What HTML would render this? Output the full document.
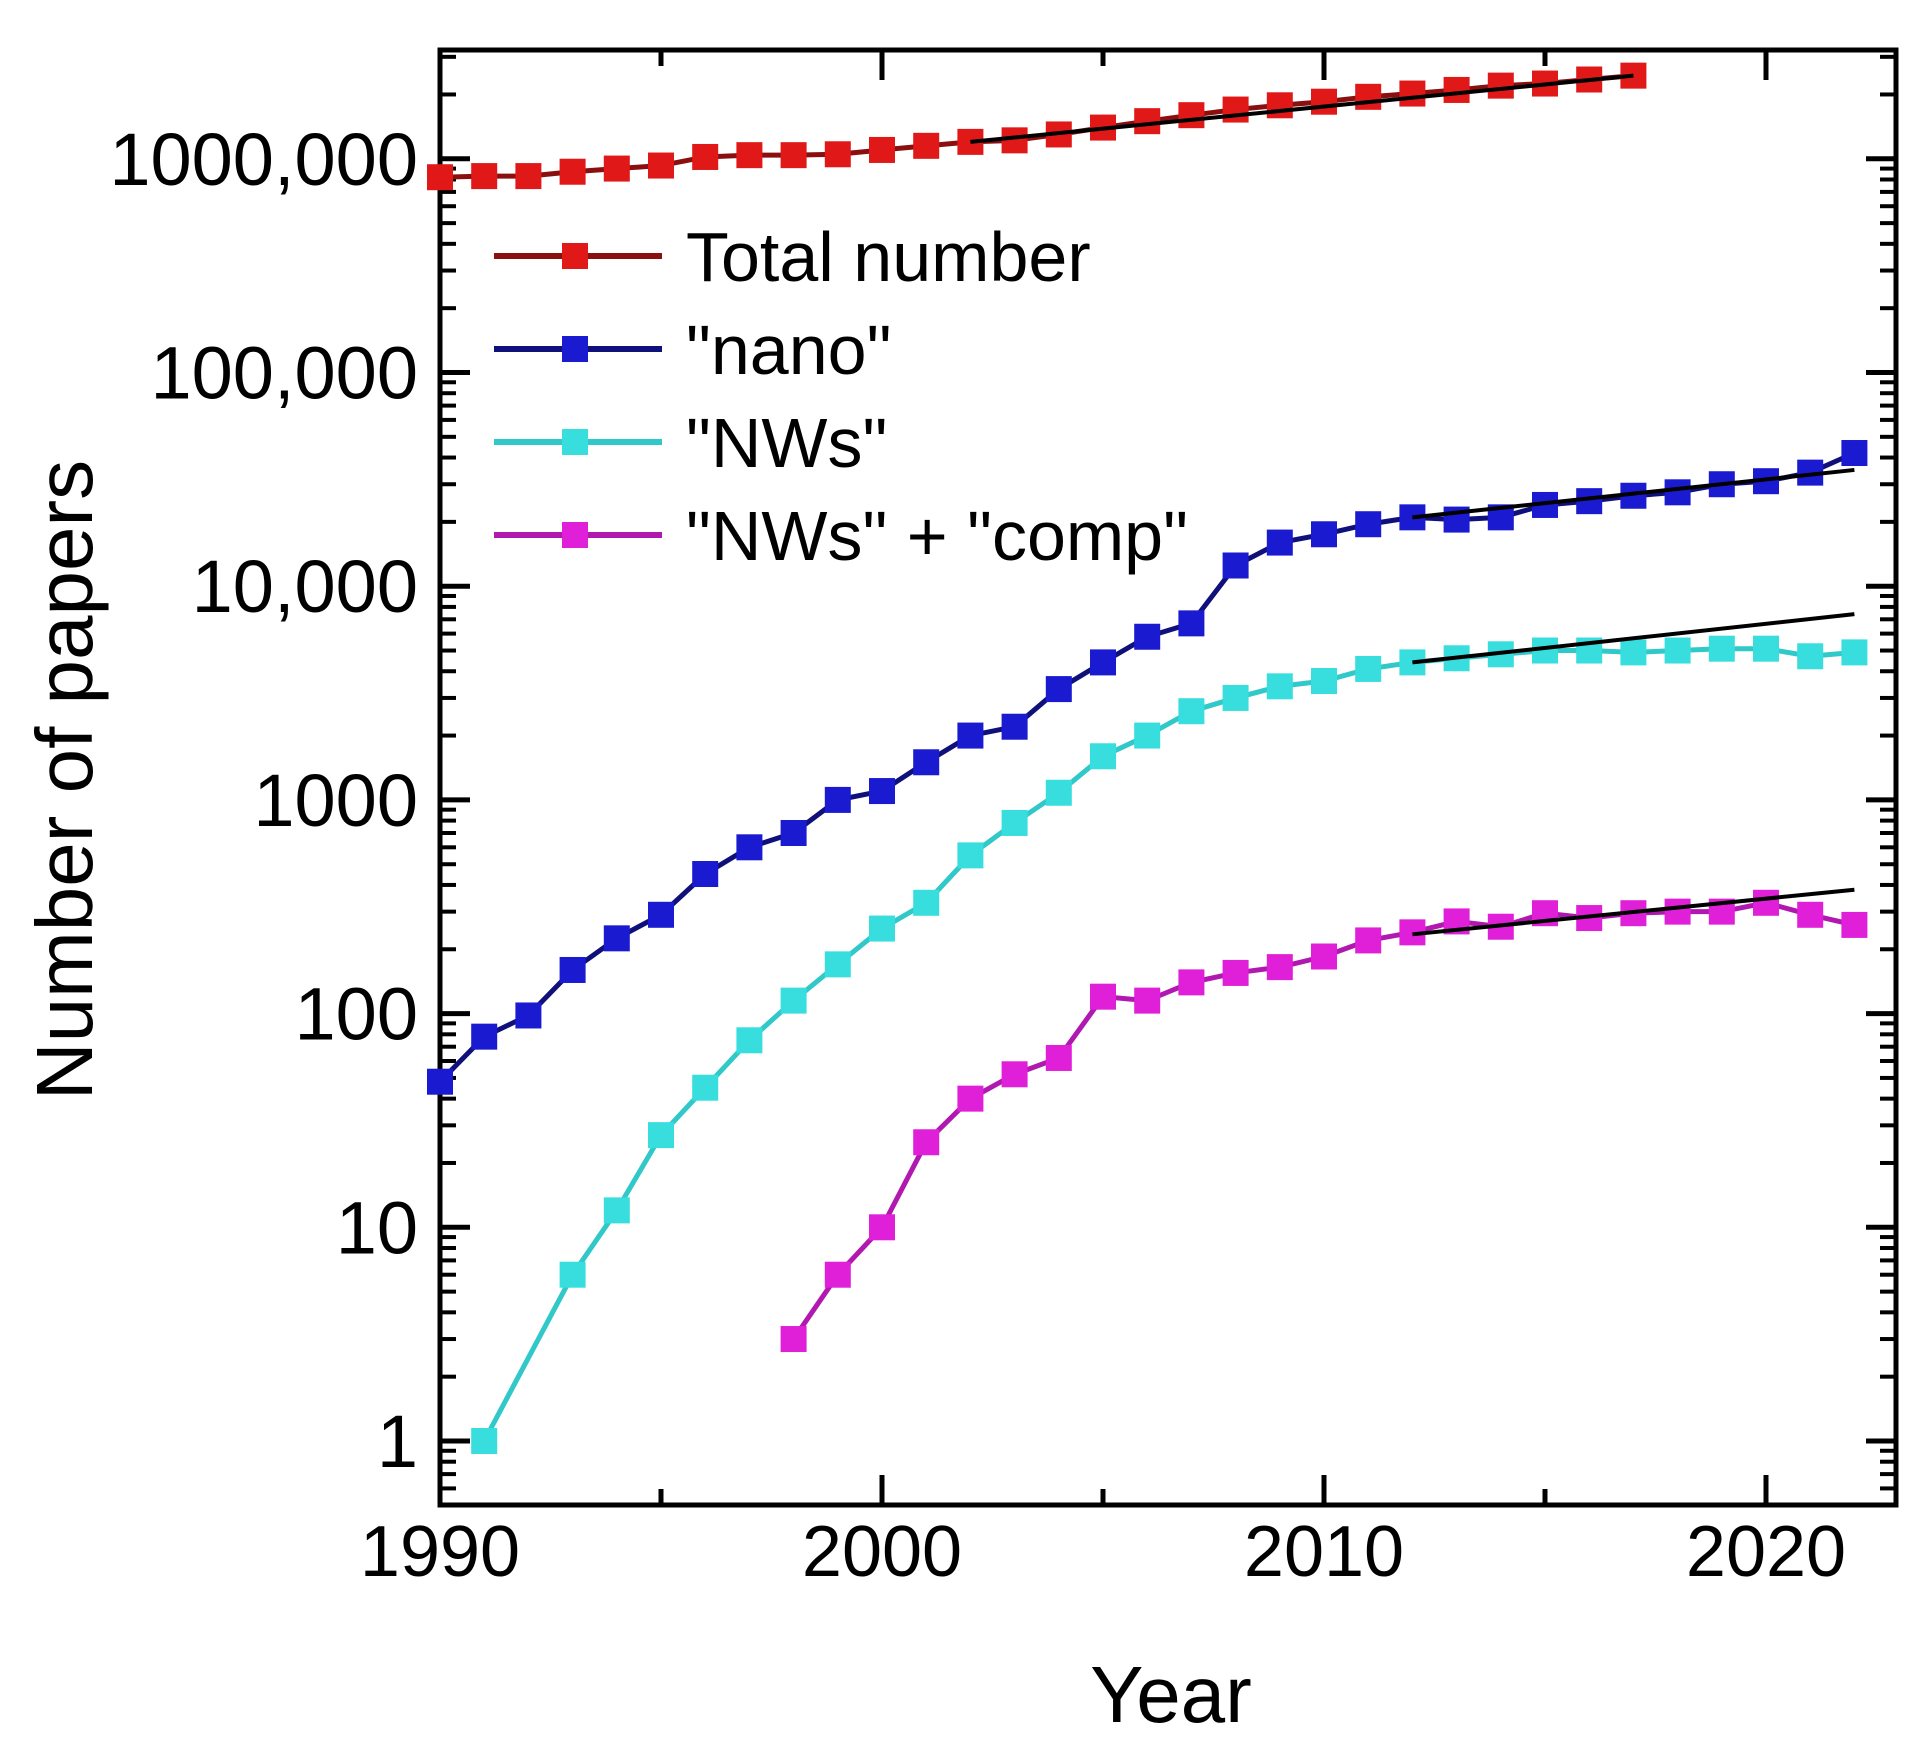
<!DOCTYPE html>
<html><head><meta charset="utf-8"><style>
html,body{margin:0;padding:0;background:#fff;}
svg{display:block;font-family:"Liberation Sans",Arial,sans-serif;}
</style></head><body>
<svg id="s" width="1928" height="1749" xmlns="http://www.w3.org/2000/svg"></svg>
<script>
const s=document.getElementById('s');
const L=440,R=1896,T=50,B=1505;
const X=y=>440+(y-1990)*44.2;
const Y=v=>1441-Math.log10(v)*213.7;
let h='';
function line(x1,y1,x2,y2,w,c){h+=`<line x1="${x1}" y1="${y1}" x2="${x2}" y2="${y2}" stroke="${c||'#000'}" stroke-width="${w}"/>`;}
function text(x,y,t,sz,anc,extra){h+=`<text x="${x}" y="${y}" font-size="${sz}" text-anchor="${anc||'middle'}" ${extra||''}>${t}</text>`;}
for(let d=0;d<=6;d++){
  const y=Y(Math.pow(10,d));
  line(L,y,L+30,y,5);line(R,y,R-30,y,5);
  for(let m=2;m<=9;m++){const yy=Y(m*Math.pow(10,d));if(yy<T)continue;line(L,yy,L+16,yy,4);line(R,yy,R-16,yy,4);}
}
for(let m=5;m<=9;m++){const yy=Y(m/10);if(yy<B){line(L,yy,L+16,yy,4);line(R,yy,R-16,yy,4);}}
for(let yr=1990;yr<=2020;yr+=5){const x=X(yr);const len=(yr%10==0)?30:16;line(x,B,x,B-len,5);line(x,T,x,T+len,5);}
h+=`<rect x="${L}" y="${T}" width="${R-L}" height="${B-T}" fill="none" stroke="#000" stroke-width="5"/>`;
const labs=['1','10','100','1000','10,000','100,000','1000,000'];
labs.forEach((t,i)=>text(418,Y(Math.pow(10,i))+26,t,74,'end'));
[1990,2000,2010,2020].forEach(yr=>text(X(yr),1576,yr,72));
text(1171,1722,'Year',80);
h+=`<text transform="translate(92,780) rotate(-90)" font-size="80" text-anchor="middle">Number of papers</text>`;
function series(start,vals,col,lc){
  let pts=[];vals.forEach((v,i)=>{if(v!=null)pts.push([X(start+i),Y(v)]);});
  h+=`<polyline points="${pts.map(p=>p.join(',')).join(' ')}" fill="none" stroke="${lc}" stroke-width="5"/>`;
  pts.forEach(p=>h+=`<rect x="${p[0]-13}" y="${p[1]-13}" width="26" height="26" fill="${col}"/>`);
}
function fit(y1,v1,y2,v2){line(X(y1),Y(v1),X(y2),Y(v2),4,'#000');}
series(1990,[0.82e6,0.83e6,0.83e6,0.87e6,0.9e6,0.93e6,1.02e6,1.04e6,1.04e6,1.05e6,1.1e6,1.15e6,1.2e6,1.22e6,1.3e6,1.4e6,1.5e6,1.6e6,1.7e6,1.78e6,1.85e6,1.95e6,2.02e6,2.1e6,2.2e6,2.25e6,2.35e6,2.45e6],'#e01818','#8a1010');
fit(2002,1.2e6,2017,2.45e6);
series(1990,[48,78,98,160,225,290,450,600,700,1000,1100,1500,2000,2200,3300,4400,5800,6700,12500,16000,17500,19500,21000,20500,21000,24000,25000,26500,27500,30000,31000,34000,42000],'#1a1ad0','#10107a');
fit(2012,21000,2022,35000);
series(1991,[1,null,6,12,27,45,75,115,170,250,330,550,780,1080,1600,2000,2600,3000,3400,3600,4100,4400,4600,4800,5000,5000,4900,5000,5100,5100,4700,4900],'#38dede','#30c8c8');
fit(2012,4400,2022,7400);
series(1998,[3,6,10,25,40,52,62,120,115,140,155,165,185,220,240,270,255,295,280,295,300,300,330,290,260],'#e020d8','#b018b0');
fit(2012,235,2022,380);
const leg=[['Total number','#e01818','#8a1010'],['"nano"','#1a1ad0','#10107a'],['"NWs"','#38dede','#30c8c8'],['"NWs" + "comp"','#e020d8','#b018b0']];
leg.forEach((l,i)=>{const y=256+i*93;line(494,y,662,y,6,l[2]);h+=`<rect x="${575-13}" y="${y-13}" width="26" height="26" fill="${l[1]}"/>`;text(686,y+25,l[0],70,'start');});
s.innerHTML=h;
</script>
</body></html>
